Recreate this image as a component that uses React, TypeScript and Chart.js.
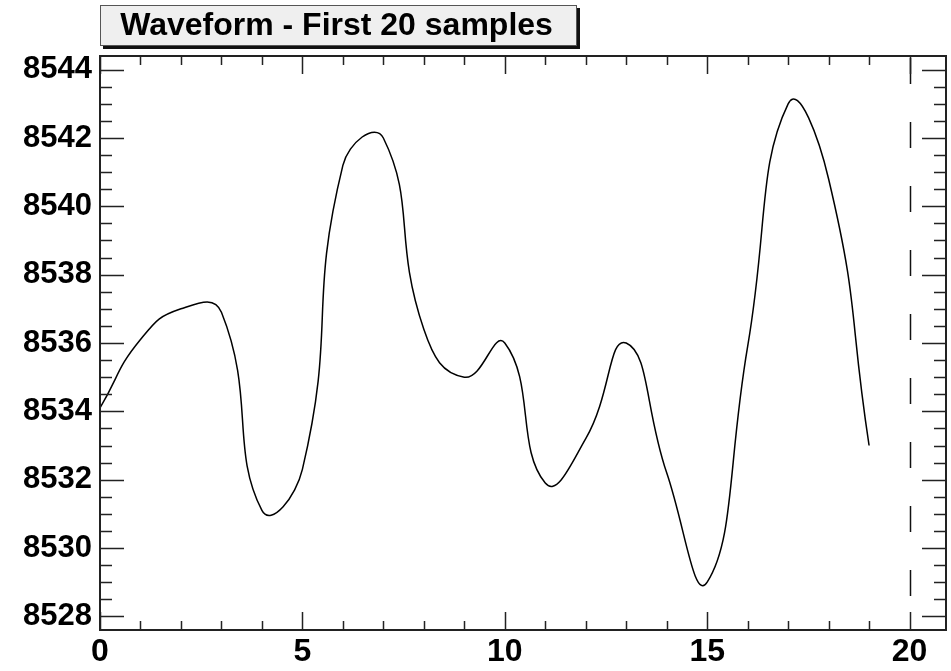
import React, { useEffect, useRef } from "react";
import { Chart, registerables } from "chart.js";

Chart.register(...registerables);

const titleText = "Waveform - First 20 samples";
const sampleIndex = [0, 1, 2, 3, 4, 5, 6, 7, 8, 9, 10, 11, 12, 13, 14, 15, 16, 17, 18, 19];
const waveform = [
  8534.1, 8536.1, 8537.0, 8536.9, 8531.1, 8532.3, 8541.2, 8542.0, 8536.4, 8535.0,
  8536.0, 8531.9, 8533.2, 8536.0, 8532.2, 8529.0, 8535.9, 8543.0, 8540.8, 8533.0,
];
const xTickValues = [0, 5, 10, 15, 20];
const yTickValues = [8528, 8530, 8532, 8534, 8536, 8538, 8540, 8542, 8544];
const xRange = [0, 20.9];
const yRange = [8527.6, 8544.4];
const dashedMarkerX = 20;

const FONT = '"Liberation Sans", Arial, Helvetica, sans-serif';

const frameTicksPlugin = {
  id: "frameTicks",
  afterDatasetsDraw(chart: any) {
    const { ctx, chartArea: a, scales } = chart;
    const xs = scales.x;
    const ys = scales.y;
    ctx.save();
    // dashed vertical marker
    ctx.strokeStyle = "#111";
    ctx.lineWidth = 1.5;
    ctx.setLineDash([26, 38]);
    const dx = Math.round(xs.getPixelForValue(dashedMarkerX)) + 0.5;
    ctx.beginPath();
    ctx.moveTo(dx, a.top + 2);
    ctx.lineTo(dx, a.bottom);
    ctx.stroke();
    ctx.setLineDash([]);

    ctx.strokeStyle = "#222";
    ctx.lineWidth = 2;
    ctx.strokeRect(a.left, a.top, a.right - a.left, a.bottom - a.top);

    ctx.lineWidth = 1.5;
    // x ticks (minor each 1, major each 5)
    for (let v = Math.ceil(xs.min); v <= xs.max; v += 1) {
      const px = Math.round(xs.getPixelForValue(v)) + 0.5;
      const major = v % 5 === 0;
      const len = major ? 18 : 9;
      ctx.beginPath();
      ctx.moveTo(px, a.bottom);
      ctx.lineTo(px, a.bottom - len);
      ctx.moveTo(px, a.top);
      ctx.lineTo(px, a.top + len);
      ctx.stroke();
    }
    // y ticks (minor each 0.5, major each 2)
    for (let v = Math.ceil(ys.min * 2) / 2; v <= ys.max; v += 0.5) {
      const py = Math.round(ys.getPixelForValue(v)) + 0.5;
      const major = Math.abs(v % 2) < 1e-6;
      const len = major ? 24 : 12;
      ctx.beginPath();
      ctx.moveTo(a.left, py);
      ctx.lineTo(a.left + len, py);
      ctx.moveTo(a.right, py);
      ctx.lineTo(a.right - len, py);
      ctx.stroke();
    }
    ctx.restore();
  },
  afterDraw(chart: any) {
    const { ctx } = chart;
    const bx = 100, by = 5, bw = 477, bh = 41;
    ctx.save();
    ctx.fillStyle = "#111";
    ctx.fillRect(bx + 3, by + 3, bw, bh);
    ctx.fillStyle = "#efefef";
    ctx.fillRect(bx, by, bw, bh);
    ctx.strokeStyle = "#555";
    ctx.lineWidth = 1;
    ctx.strokeRect(bx + 0.5, by + 0.5, bw - 1, bh - 1);
    ctx.fillStyle = "#000";
    ctx.font = `bold 32px ${FONT}`;
    ctx.textAlign = "center";
    ctx.textBaseline = "middle";
    ctx.fillText(titleText, bx + bw / 2 - 2, by + bh / 2 + 1);
    ctx.restore();
  },
};

export default function App() {
  const ref = useRef<HTMLCanvasElement | null>(null);
  useEffect(() => {
    if (!ref.current) return;
    const points = sampleIndex.map((x, i) => ({ x, y: waveform[i] }));
    const chart = new Chart(ref.current, {
      type: "line",
      data: {
        datasets: [
          {
            data: points,
            borderColor: "#000",
            borderWidth: 1.5,
            pointRadius: 0,
            tension: 0.5,
            fill: false,
          },
        ],
      },
      options: {
        animation: false,
        responsive: false,
        maintainAspectRatio: false,
        events: [],
        layout: { padding: { left: 0, top: 56, right: 5, bottom: 0 } },
        plugins: { legend: { display: false }, tooltip: { enabled: false }, title: { display: false } },
        scales: {
          x: {
            type: "linear",
            min: xRange[0],
            max: xRange[1],
            grid: { display: false, drawTicks: false },
            border: { display: false },
            afterBuildTicks: (s: any) => {
              s.ticks = xTickValues.map((v) => ({ value: v }));
            },
            afterFit: (s: any) => {
              s.height = 41;
            },
            ticks: {
              padding: 6,
              color: "#000",
              font: { family: FONT, size: 32, weight: "bold", lineHeight: 1.0 },
              maxRotation: 0,
              autoSkip: false,
            },
          },
          y: {
            type: "linear",
            min: yRange[0],
            max: yRange[1],
            grid: { display: false, drawTicks: false },
            border: { display: false },
            afterBuildTicks: (s: any) => {
              s.ticks = yTickValues.map((v) => ({ value: v }));
            },
            afterFit: (s: any) => {
              s.width = 100;
            },
            ticks: {
              padding: 8,
              color: "#000",
              font: { family: FONT, size: 31, weight: "bold" },
              autoSkip: false,
              callback: (v: any) => String(v),
            },
          },
        },
      },
      plugins: [frameTicksPlugin],
    });
    return () => chart.destroy();
  }, []);
  return (
    <div style={{ position: "fixed", left: 0, top: 0, width: 951, height: 671, background: "#fff" }}>
      <canvas ref={ref} width={951} height={671} style={{ width: 951, height: 671 }} />
    </div>
  );
}
